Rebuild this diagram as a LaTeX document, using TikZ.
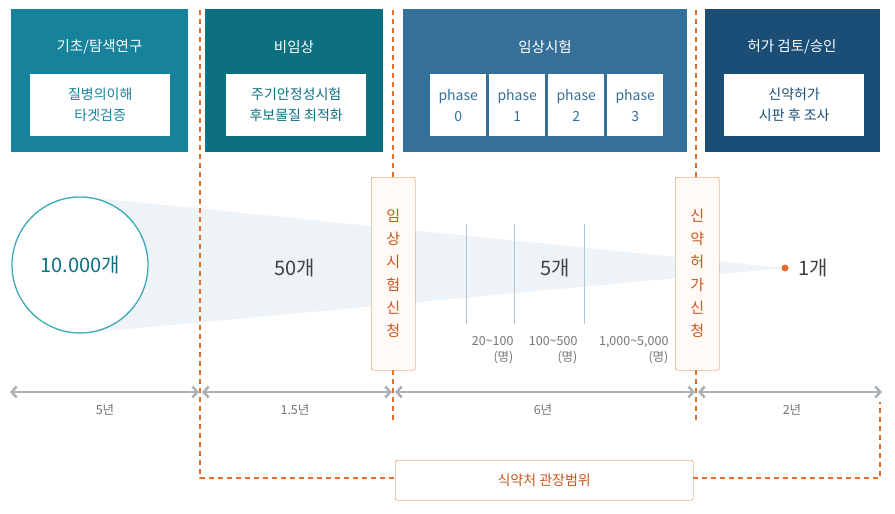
\documentclass[tikz,border=0pt]{standalone}
\usepackage{fontspec}
\setmainfont{Noto Sans CJK KR}[BoldFont={* Bold}]
\usetikzlibrary{arrows.meta}
\definecolor{cA}{HTML}{17829B}
\definecolor{cB}{HTML}{0C7080}
\definecolor{cC}{HTML}{35709A}
\definecolor{cD}{HTML}{1B4E76}
\definecolor{circ}{HTML}{3AAAB9}
\definecolor{orng}{HTML}{E2702A}
\definecolor{otxt}{HTML}{C9561C}
\definecolor{gr}{HTML}{A9B1B7}
\definecolor{fun}{HTML}{EEF3F8}
\newcommand{\tld}{{\char"7E}}
\tikzset{
 hdr/.style={minimum width=#1pt, minimum height=143pt, anchor=north west, inner sep=0},
 ttl/.style={text=white, font=\fontsize{14.5}{16}\selectfont},
 inb/.style={fill=white, minimum height=62pt, anchor=north west, inner sep=0, align=center, font=\fontsize{14}{21}\selectfont},
 app/.style={draw=orng, fill=orange!4, rounded corners=2pt, minimum width=44pt, minimum height=193pt, anchor=north west, inner sep=0, text=otxt, align=center, font=\fontsize{15}{23}\selectfont},
 dsh/.style={orng, line width=1.6pt, dash pattern=on 5pt off 4pt},
 tl/.style={gr, line width=2.5pt, {Straight Barb[length=5pt,width=11pt]}-{Straight Barb[length=5pt,width=11pt]}},
 lbl/.style={text=gray!90!black, font=\fontsize{12.5}{16}\selectfont},
 cnt/.style={text=black!75, font=\fontsize{20}{22}\selectfont},
}
\begin{document}
\begin{tikzpicture}[x=1pt,y=-1pt]
\useasboundingbox (0,0) rectangle (895,514);
% header boxes
\node[hdr=177, fill=cA] (h1) at (11,9) {};
\node[hdr=178, fill=cB] (h2) at (205,9) {};
\node[hdr=284, fill=cC] (h3) at (403,9) {};
\node[hdr=175, fill=cD] (h4) at (705,9) {};
\node[ttl] (t1) at (99.5,47) {기초/탐색연구};
\node[ttl] (t2) at (294,47) {비임상};
\node[ttl] (t3) at (545,47) {임상시험};
\node[ttl] (t4) at (792,47) {허가 검토/승인};
\node[inb, minimum width=140pt, text=cA] (i1) at (30,74) {질병의이해\\타겟검증};
\node[inb, minimum width=140pt, text=cB] (i2) at (226,74) {주기안정성시험\\후보물질 최적화};
\node[inb, minimum width=56pt, text=cC] (p0) at (430,74) {phase\\0};
\node[inb, minimum width=56pt, text=cC] (p1) at (489,74) {phase\\1};
\node[inb, minimum width=56pt, text=cC] (p2) at (548,74) {phase\\2};
\node[inb, minimum width=56pt, text=cC] (p3) at (607,74) {phase\\3};
\node[inb, minimum width=140pt, text=cD] (i4) at (724,74) {신약허가\\시판 후 조사};
% funnel
\coordinate (tip) at (785,268);
\fill[fun] (85,197) -- (tip) -- (85,333) -- cycle;
\node[circle, draw=circ, line width=1.3pt, fill=white, minimum size=136pt, inner sep=0, text=cB, font=\fontsize{20}{22}\selectfont] (c1) at (80,265) {10.000개};
\fill[orng] (tip) circle (3.5pt);
\node[cnt, anchor=west] (n1) at (795,268) {1개};
\node[cnt] (n50) at (295,268) {50개};
\node[cnt] (n5) at (555,268) {5개};
% phase lines
\foreach \x in {466,514,584} \draw[cC!40, line width=0.7pt] (\x,224) -- (\x,324);
\node[lbl, anchor=east, align=right] (l1) at (517,350) {20\tld100\\(명)};
\node[lbl, anchor=east, align=right] (l2) at (581,350) {100\tld500\\(명)};
\node[lbl, anchor=east, align=right] (l3) at (672,350) {1,000\tld5,000\\(명)};
% dashed lines
\draw[dsh] (200,10) -- (200,478) -- (395,478);
\draw[dsh] (693,478) -- (880,478) -- (880,402);
\draw[dsh] (393,10) -- (393,420);
\draw[dsh] (696,10) -- (696,420);
\node[draw=orng, fill=white, rounded corners=2pt, minimum width=298pt, minimum height=40pt, anchor=north west, inner sep=0, text=otxt, font=\fontsize{14}{16}\selectfont] (reg) at (395,460) {식약처 관장범위};
% application boxes
\node[app] (a1) at (371,177) {임\\상\\시\\험\\신\\청};
\node[app] (a2) at (675,177) {신\\약\\허\\가\\신\\청};
% timeline
\coordinate (x0) at (10,392); \coordinate (x1) at (199,392);
\coordinate (x2) at (202,392); \coordinate (x3) at (392,392);
\coordinate (x4) at (395,392); \coordinate (x5) at (695,392);
\coordinate (x6) at (698,392); \coordinate (x7) at (882,392);
\draw[tl] (x0) -- (x1); \draw[tl] (x2) -- (x3);
\draw[tl] (x4) -- (x5); \draw[tl] (x6) -- (x7);
\node[lbl] (y1) at (105,410) {5년};
\node[lbl] (y2) at (295,410) {1.5년};
\node[lbl] (y3) at (543,410) {6년};
\node[lbl] (y4) at (792,410) {2년};
\end{tikzpicture}
\end{document}
